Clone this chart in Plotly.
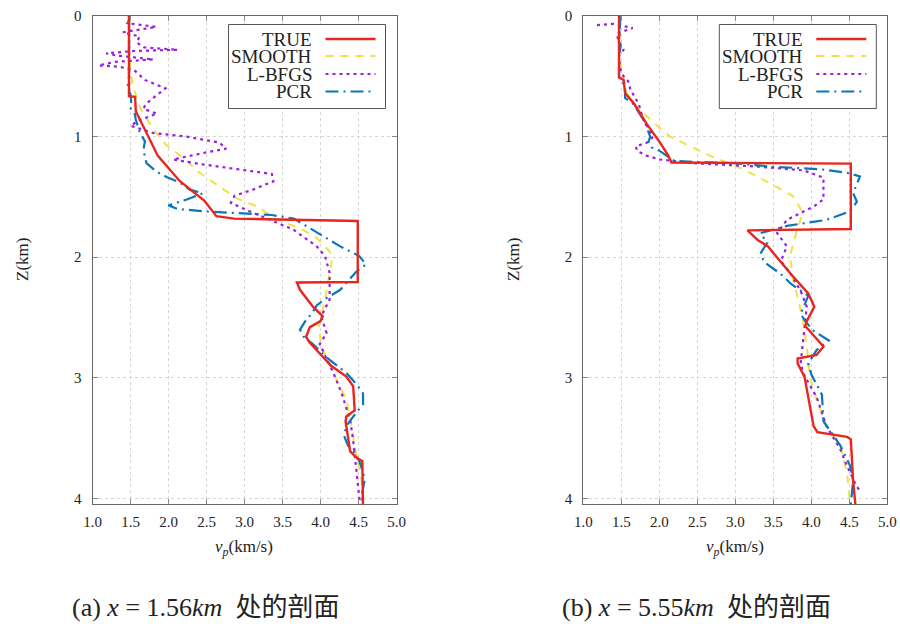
import plotly.graph_objects as go

# ---------------- data: panel (a) x = 1.56 km ----------------
a_true_v = [1.48, 1.48, 1.56, 1.57, 1.86, 2.15, 2.47, 2.63, 2.86, 4.49, 4.49, 3.69, 3.73, 3.90, 4.03, 4.00, 3.86, 3.81, 3.86, 3.99, 4.14, 4.34, 4.43, 4.45, 4.34, 4.33, 4.39, 4.49, 4.55, 4.56]
a_true_z = [0.00, 0.665, 0.67, 0.79, 1.16, 1.37, 1.53, 1.66, 1.68, 1.70, 2.206, 2.21, 2.27, 2.41, 2.49, 2.53, 2.58, 2.66, 2.71, 2.795, 2.90, 2.99, 3.07, 3.27, 3.32, 3.36, 3.61, 3.67, 3.69, 4.07]

a_smooth_v = [1.48, 1.48, 1.50, 1.53, 1.64, 1.80, 1.97, 2.22, 2.41, 2.67, 2.89, 3.17, 3.43, 3.73, 3.95, 4.12, 4.15, 4.12, 4.06, 3.98, 4.01, 4.17, 4.34, 4.41, 4.45, 4.54, 4.55]
a_smooth_z = [0.00, 0.30, 0.45, 0.58, 0.78, 0.94, 1.07, 1.19, 1.30, 1.41, 1.51, 1.58, 1.69, 1.76, 1.84, 1.95, 2.02, 2.13, 2.35, 2.57, 2.74, 2.96, 3.18, 3.40, 3.57, 3.85, 4.05]

a_lbfgs_v = [1.48, 1.46, 1.84, 1.52, 1.40, 1.62, 1.58, 1.68, 2.12, 1.55, 1.18, 1.35, 1.62, 1.80, 1.30, 1.08, 1.35, 1.55, 1.69, 1.96, 1.84, 1.70, 1.67, 1.85, 1.63, 1.50, 1.80, 2.24, 2.67, 2.76, 2.50, 2.06, 2.45, 2.89, 3.36, 3.38, 3.11, 2.87, 2.82, 3.07, 3.34, 3.64, 3.95, 4.06, 4.12, 4.12, 4.01, 4.08, 3.99, 4.17, 4.28, 4.39, 4.43, 4.47, 4.51, 4.52]
a_lbfgs_z = [0.04, 0.06, 0.09, 0.12, 0.135, 0.17, 0.22, 0.26, 0.28, 0.29, 0.31, 0.33, 0.35, 0.36, 0.38, 0.41, 0.42, 0.45, 0.53, 0.60, 0.66, 0.73, 0.77, 0.81, 0.86, 0.91, 0.97, 1.00, 1.05, 1.10, 1.13, 1.19, 1.23, 1.27, 1.31, 1.37, 1.44, 1.49, 1.55, 1.62, 1.69, 1.77, 1.91, 1.99, 2.13, 2.35, 2.49, 2.63, 2.72, 2.96, 3.13, 3.35, 3.52, 3.74, 3.96, 4.05]

a_pcr_v = [1.48, 1.48, 1.46, 1.50, 1.51, 1.49, 1.55, 1.57, 1.62, 1.69, 1.67, 1.71, 1.84, 1.99, 2.15, 2.28, 2.45, 2.25, 2.00, 2.12, 2.49, 2.85, 3.36, 3.65, 3.81, 4.00, 4.26, 4.51, 4.60, 4.47, 4.26, 4.05, 3.95, 3.88, 3.80, 3.73, 3.78, 3.90, 4.08, 4.34, 4.47, 4.56, 4.56, 4.42, 4.34, 4.31, 4.36, 4.45, 4.51, 4.56, 4.58, 4.55, 4.54]
a_pcr_z = [0.00, 0.50, 0.60, 0.65, 0.71, 0.76, 0.79, 0.86, 0.96, 1.04, 1.11, 1.22, 1.29, 1.34, 1.38, 1.44, 1.47, 1.52, 1.57, 1.60, 1.62, 1.63, 1.65, 1.68, 1.74, 1.81, 1.91, 1.99, 2.06, 2.12, 2.27, 2.35, 2.40, 2.47, 2.53, 2.60, 2.66, 2.72, 2.83, 2.96, 3.05, 3.13, 3.22, 3.33, 3.40, 3.48, 3.56, 3.62, 3.69, 3.78, 3.85, 3.95, 4.05]

# ---------------- data: panel (b) x = 5.55 km ----------------
b_true_v = [1.47, 1.47, 1.53, 1.55, 1.66, 1.83, 2.01, 2.12, 2.16, 4.52, 4.52, 3.16, 3.30, 3.43, 3.50, 3.76, 3.96, 4.04, 3.94, 3.92, 4.16, 4.07, 3.82, 3.82, 3.91, 4.03, 4.08, 4.47, 4.52, 4.55, 4.58]
b_true_z = [0.00, 0.51, 0.53, 0.64, 0.72, 0.89, 1.05, 1.16, 1.215, 1.224, 1.766, 1.777, 1.86, 1.91, 1.965, 2.16, 2.30, 2.41, 2.53, 2.57, 2.74, 2.81, 2.84, 2.88, 2.99, 3.40, 3.45, 3.49, 3.51, 3.85, 4.05]

b_smooth_v = [1.48, 1.48, 1.50, 1.57, 1.70, 1.90, 2.14, 2.40, 2.67, 3.10, 3.50, 3.76, 3.89, 3.80, 3.72, 3.76, 3.82, 3.89, 3.94, 3.98, 4.07, 4.20, 4.38, 4.47, 4.50, 4.51]
b_smooth_z = [0.00, 0.30, 0.42, 0.64, 0.75, 0.87, 1.00, 1.08, 1.16, 1.27, 1.40, 1.495, 1.63, 1.80, 1.99, 2.19, 2.33, 2.52, 2.74, 2.99, 3.18, 3.40, 3.56, 3.79, 3.95, 4.05]

b_lbfgs_v = [1.18, 1.40, 1.65, 1.44, 1.46, 1.53, 1.47, 1.48, 1.53, 1.59, 1.62, 1.73, 1.79, 1.92, 1.84, 1.69, 1.71, 1.84, 2.01, 2.45, 3.33, 3.90, 4.16, 4.16, 4.03, 3.68, 3.55, 3.68, 3.60, 3.73, 3.86, 3.94, 3.92, 3.90, 3.86, 3.90, 4.07, 4.20, 4.38, 4.47, 4.58, 4.64]
b_lbfgs_z = [0.075, 0.065, 0.10, 0.145, 0.20, 0.28, 0.33, 0.43, 0.50, 0.54, 0.61, 0.73, 0.86, 1.00, 1.05, 1.08, 1.12, 1.16, 1.19, 1.22, 1.25, 1.28, 1.34, 1.52, 1.58, 1.69, 1.80, 1.91, 2.03, 2.14, 2.28, 2.41, 2.53, 2.66, 2.88, 2.97, 3.16, 3.40, 3.59, 3.73, 3.88, 3.94]

b_pcr_v = [1.48, 1.48, 1.46, 1.49, 1.47, 1.47, 1.55, 1.55, 1.66, 1.81, 1.88, 1.86, 1.90, 2.01, 2.10, 2.19, 2.45, 2.97, 3.50, 4.11, 4.47, 4.64, 4.55, 4.60, 4.51, 4.20, 3.68, 3.33, 3.42, 3.33, 3.38, 3.60, 3.73, 3.96, 3.86, 3.92, 4.03, 4.23, 4.07, 3.96, 4.00, 4.14, 4.16, 4.38, 4.51, 4.55, 4.52]
b_pcr_z = [0.00, 0.15, 0.20, 0.25, 0.33, 0.50, 0.58, 0.68, 0.73, 0.88, 1.00, 1.04, 1.09, 1.12, 1.16, 1.20, 1.21, 1.22, 1.25, 1.27, 1.30, 1.33, 1.47, 1.54, 1.62, 1.69, 1.74, 1.80, 1.88, 1.97, 2.04, 2.14, 2.22, 2.32, 2.47, 2.53, 2.61, 2.69, 2.77, 2.88, 2.97, 3.14, 3.36, 3.56, 3.73, 3.85, 4.05]

series_names = ["TRUE", "SMOOTH", "L-BFGS", "PCR"]
x_ticks = [1.0, 1.5, 2.0, 2.5, 3.0, 3.5, 4.0, 4.5, 5.0]
y_ticks = [0, 1, 2, 3, 4]
captions = ["(a) <i>x</i> = 1.56<i>km</i>  处的剖面", "(b) <i>x</i> = 5.55<i>km</i>  处的剖面"]
x_title = "<i>v</i><sub><i>p</i></sub>(km/s)"
y_title = "Z(km)"

# ---------------- styles ----------------
colors = ["#e8251f", "#f2e04a", "#9a1fe0", "#0a78b8"]
dashes = ["solid", "8px,7px", "3px,4px", "13px,5px,2px,5px"]
widths = [2.4, 2.0, 2.2, 2.2]
SERIF = "Liberation Serif, Times New Roman, DejaVu Serif, serif"
CAPFONT = "Liberation Serif, Noto Sans CJK SC, serif"
TXT = "#222"

panels = [
    [(a_true_v, a_true_z), (a_smooth_v, a_smooth_z), (a_lbfgs_v, a_lbfgs_z), (a_pcr_v, a_pcr_z)],
    [(b_true_v, b_true_z), (b_smooth_v, b_smooth_z), (b_lbfgs_v, b_lbfgs_z), (b_pcr_v, b_pcr_z)],
]

fig = go.Figure()
for p, series in enumerate(panels):
    xa = "x" if p == 0 else "x2"
    ya = "y" if p == 0 else "y2"
    for i in [1, 2, 3, 0]:
        v, z = series[i]
        fig.add_trace(go.Scatter(
            x=v, y=z, mode="lines", name=series_names[i], showlegend=False,
            line=dict(color=colors[i], width=widths[i], dash=dashes[i]),
            xaxis=xa, yaxis=ya))

axis_common = dict(
    showline=True, linecolor="#666", linewidth=1, mirror="allticks",
    ticks="inside", ticklen=5, tickcolor="#888", tickwidth=1,
    showgrid=True, gridcolor="#d6d6d6", griddash="dot", gridwidth=1,
    zeroline=False, tickfont=dict(family=SERIF, size=15, color=TXT),
    automargin=False,
)

ydom = [1 - 504 / 624, 1 - 16 / 624]
xdoms = [[92.5 / 900, 396.5 / 900], [583.3 / 900, 887.3 / 900]]
xtext = [f"{t:.1f}" for t in x_ticks]

fig.update_layout(
    width=900, height=624, margin=dict(l=0, r=0, t=0, b=0),
    paper_bgcolor="white", plot_bgcolor="white", showlegend=False,
    font=dict(family=SERIF, color=TXT),
    xaxis=dict(domain=xdoms[0], range=[1.0, 5.0], tickvals=x_ticks, ticktext=xtext, anchor="y",
               ticklabelstandoff=4, **axis_common),
    yaxis=dict(domain=ydom, range=[4.046, 0], tickvals=y_ticks, anchor="x",
               ticklabelstandoff=7, **axis_common),
    xaxis2=dict(domain=xdoms[1], range=[1.0, 5.0], tickvals=x_ticks, ticktext=xtext, anchor="y2",
                ticklabelstandoff=4, **axis_common),
    yaxis2=dict(domain=ydom, range=[4.046, 0], tickvals=y_ticks, anchor="x2",
                ticklabelstandoff=7, **axis_common),
)

# ---------------- axis titles, legends, captions ----------------
row_y = [1 - (39 - 16) / 488, 1 - (56 - 16) / 488, 1 - (74 - 16) / 488, 1 - (91.5 - 16) / 488]
box_x0, box_x1 = (228.5 - 92.5) / 304, (385.5 - 92.5) / 304
box_y0, box_y1 = 1 - (108.5 - 16) / 488, 1 - (24.5 - 16) / 488
txt_x = (314.5 - 92.5) / 304
ln_x0, ln_x1 = (325.5 - 92.5) / 304, (375.5 - 92.5) / 304
title_x_px = [22, 513]
caption_x_px = [70, 560]
for p in range(2):
    xr = "x domain" if p == 0 else "x2 domain"
    yr = "y domain" if p == 0 else "y2 domain"
    fig.add_annotation(xref=xr, yref="paper", x=0.5, y=1 - 548 / 624, text=x_title, showarrow=False,
                       xanchor="center", yanchor="middle", font=dict(family=SERIF, size=17, color=TXT))
    fig.add_annotation(xref="paper", yref=yr, x=title_x_px[p] / 900, y=0.5, text=y_title,
                       showarrow=False, textangle=-90, xanchor="center", yanchor="middle",
                       font=dict(family=SERIF, size=17, color=TXT))
    fig.add_shape(type="rect", xref=xr, yref=yr, x0=box_x0, x1=box_x1, y0=box_y0, y1=box_y1,
                  line=dict(color="#555", width=1), fillcolor="white", layer="above")
    for i, name in enumerate(series_names):
        fig.add_shape(type="line", xref=xr, yref=yr, x0=ln_x0, x1=ln_x1, y0=row_y[i], y1=row_y[i],
                      line=dict(color=colors[i], width=widths[i], dash=dashes[i]), layer="above")
        fig.add_annotation(xref=xr, yref=yr, x=txt_x, y=row_y[i], text=name, showarrow=False,
                           xanchor="right", yanchor="middle", font=dict(family=SERIF, size=19, color=TXT))
    fig.add_annotation(xref="paper", yref="paper", x=caption_x_px[p] / 900, y=1 - 607 / 624,
                       text=captions[p], showarrow=False, xanchor="left", yanchor="middle",
                       font=dict(family=CAPFONT, size=26, color=TXT))

fig.write_html("out.html", config={"displayModeBar": False},
               post_script="document.body.style.margin='0px';document.body.style.padding='0px';")
